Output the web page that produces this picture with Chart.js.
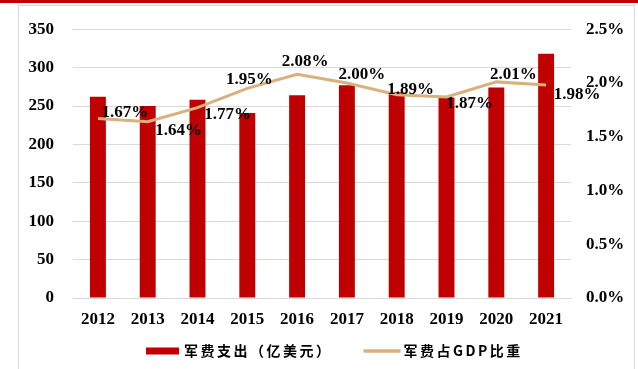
<!DOCTYPE html>
<html>
<head>
<meta charset="utf-8">
<script src="https://cdn.jsdelivr.net/npm/chart.js@4.4.1/dist/chart.umd.min.js"></script>
<style>
  html, body { margin: 0; padding: 0; background: #fff; }
  #wrap { position: relative; width: 638px; height: 369px; overflow: hidden; }
  #topline { position: absolute; left: 0; top: 0; width: 638px; height: 3px; background: #C00000; }
  #frame { position: absolute; left: 18px; top: 5px; width: 617px; height: 400px; border: 1px solid #D9D9D9; box-sizing: border-box; }
  #chart { position: absolute; left: 0; top: 0; }
</style>
</head>
<body>
<div id="wrap">
  <div id="topline"></div>
  <div id="frame"></div>
  <canvas id="chart" width="638" height="369"></canvas>
</div>
<script>
const years = ["2012", "2013", "2014", "2015", "2016", "2017", "2018", "2019", "2020", "2021"];
// 军费支出，亿美元
const spending = [262, 250, 258, 241, 264, 277, 268, 261, 274, 318];
// 军费占GDP比重，%
const gdpShare = [1.67, 1.64, 1.77, 1.95, 2.08, 2.00, 1.89, 1.87, 2.01, 1.98];

// where each percentage label sits relative to its point (px)
const labelOffsets = [
  [27, -6], [31, 9], [30, 7], [2, -9], [8, -13],
  [15, -8], [14, -5], [23, 7], [17, -7], [31, 9]
];

const serif = '"Liberation Serif", "Times New Roman", serif';
const cjk = '"Noto Sans CJK SC", sans-serif';
const barColor = "#C00000";
const lineColor = "#D9B17E";
const tickFont = { family: serif, size: 17, weight: "bold" };

const pctLabels = {
  id: "pctLabels",
  afterDatasetsDraw(chart) {
    const meta = chart.getDatasetMeta(1);
    const ctx = chart.ctx;
    ctx.save();
    ctx.font = "bold 17px " + serif;
    ctx.fillStyle = "#000";
    ctx.textAlign = "center";
    ctx.textBaseline = "middle";
    meta.data.forEach((pt, i) => {
      const [dx, dy] = labelOffsets[i];
      ctx.fillText(gdpShare[i].toFixed(2) + "%", pt.x + dx, pt.y + dy);
    });
    ctx.restore();
  }
};

// legend row under the x axis: red box, then a short tan line
const bottomLegend = {
  id: "bottomLegend",
  afterDraw(chart) {
    const ctx = chart.ctx;
    const ds = chart.data.datasets;
    const y = 351;
    let x = 146;
    ctx.save();
    ctx.font = "bold 14px " + cjk;
    ctx.letterSpacing = "2.5px";
    ctx.textBaseline = "middle";
    ctx.fillStyle = barColor;
    ctx.fillRect(x, y - 3.5, 33, 7);
    x += 38;
    ctx.fillStyle = "#000";
    ctx.fillText(ds[0].label, x, y);
    x += ctx.measureText(ds[0].label).width + 31;
    ctx.strokeStyle = lineColor;
    ctx.lineWidth = 3.5;
    ctx.beginPath();
    ctx.moveTo(x, y);
    ctx.lineTo(x + 37, y);
    ctx.stroke();
    x += 40;
    ctx.fillText(ds[1].label, x, y);
    ctx.restore();
  }
};

new Chart(document.getElementById("chart"), {
  type: "bar",
  data: {
    labels: years,
    datasets: [
      {
        type: "bar",
        label: "军费支出（亿美元）",
        data: spending,
        backgroundColor: barColor,
        yAxisID: "y",
        barPercentage: 0.32,
        categoryPercentage: 1,
        order: 1
      },
      {
        type: "line",
        label: "军费占GDP比重",
        data: gdpShare,
        borderColor: lineColor,
        backgroundColor: lineColor,
        borderWidth: 3,
        pointRadius: 0,
        tension: 0,
        fill: false,
        yAxisID: "y1",
        order: 0
      }
    ]
  },
  options: {
    responsive: false,
    animation: false,
    layout: { padding: { left: 0, right: 0, top: 25, bottom: 36 } },
    scales: {
      x: {
        grid: { display: false },
        border: { color: "#D9D9D9" },
        ticks: { color: "#000", font: tickFont, padding: 3 },
        afterFit(scale) { scale.height = 35; }
      },
      y: {
        position: "left",
        min: 0,
        max: 350,
        ticks: { stepSize: 50, color: "#000", padding: 19, font: tickFont },
        grid: { color: "#D9D9D9", drawTicks: false },
        border: { display: false },
        afterFit(scale) { scale.width = 73; }
      },
      y1: {
        position: "right",
        min: 0,
        max: 2.5,
        ticks: {
          stepSize: 0.5,
          color: "#000",
          padding: 15,
          font: tickFont,
          callback: (v) => v.toFixed(1) + "%"
        },
        grid: { drawOnChartArea: false, drawTicks: false },
        border: { display: false },
        afterFit(scale) { scale.width = 67; }
      }
    },
    plugins: {
      tooltip: { enabled: false },
      legend: { display: false }
    }
  },
  plugins: [pctLabels, bottomLegend]
});
</script>
</body>
</html>
